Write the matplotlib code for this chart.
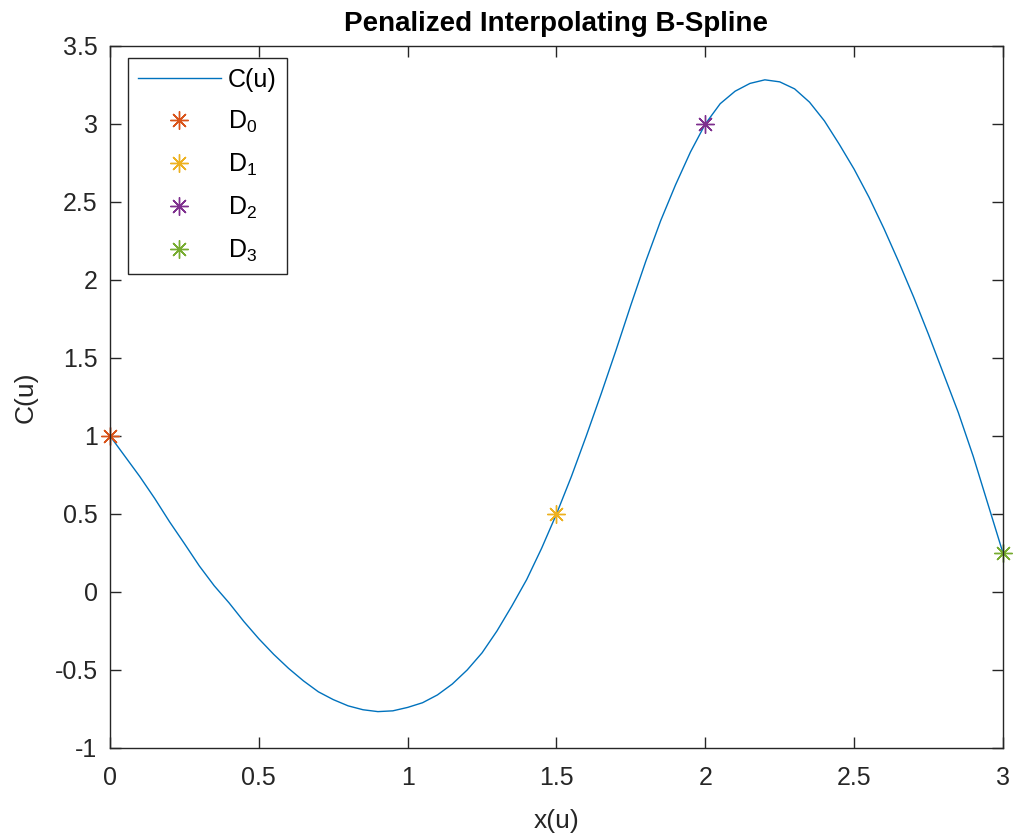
import matplotlib.pyplot as plt
import numpy as np

plt.rcParams['font.family'] = ['Liberation Sans', 'DejaVu Sans']
plt.rcParams['font.size'] = 18
plt.rcParams['mathtext.fontset'] = 'custom'
plt.rcParams['mathtext.rm'] = 'Liberation Sans'
plt.rcParams['mathtext.it'] = 'Liberation Sans'

# curve
x_u = [0.00, 0.05, 0.10, 0.15, 0.20, 0.25, 0.30, 0.35, 0.40, 0.45,
       0.50, 0.55, 0.60, 0.65, 0.70, 0.75, 0.80, 0.85, 0.90, 0.95,
       1.00, 1.05, 1.10, 1.15, 1.20, 1.25, 1.30, 1.35, 1.40, 1.45,
       1.50, 1.55, 1.60, 1.65, 1.70, 1.75, 1.80, 1.85, 1.90, 1.95,
       2.00, 2.05, 2.10, 2.15, 2.20, 2.25, 2.30, 2.35, 2.40, 2.45,
       2.50, 2.55, 2.60, 2.65, 2.70, 2.75, 2.80, 2.85, 2.90, 2.95, 3.00]
c_u = [1.00, 0.87, 0.74, 0.60, 0.45, 0.31, 0.167, 0.04, -0.07, -0.19,
       -0.30, -0.40, -0.49, -0.57, -0.64, -0.69, -0.73, -0.755, -0.767, -0.762,
       -0.74, -0.71, -0.66, -0.59, -0.50, -0.39, -0.25, -0.09, 0.08, 0.28,
       0.50, 0.74, 1.00, 1.27, 1.55, 1.84, 2.12, 2.38, 2.61, 2.82,
       3.00, 3.13, 3.21, 3.26, 3.283, 3.27, 3.225, 3.14, 3.02, 2.87,
       2.71, 2.53, 2.33, 2.115, 1.89, 1.65, 1.40, 1.15, 0.87, 0.56, 0.25]

# data points
pts_x = [0, 1.5, 2, 3]
pts_y = [1, 0.5, 3, 0.25]
pts_labels = ['D$_0$', 'D$_1$', 'D$_2$', 'D$_3$']
pts_colors = ['#D95319', '#EDB120', '#7E2F8E', '#77AC30']

fig = plt.figure(figsize=(10.13, 8.39), dpi=100)
ax = fig.add_axes([0.1086, 0.1085, 0.8815, 0.8367])

ax.plot(x_u, c_u, color='#0072BD', lw=1.0, label='C(u)')
for px, py, lab, col in zip(pts_x, pts_y, pts_labels, pts_colors):
    ax.plot(px, py, linestyle='none', marker=(8, 2, 0), markersize=13,
            markeredgewidth=1.0, color=col, label=lab, clip_on=False)

ax.set_xlim(0, 3)
ax.set_ylim(-1, 3.5)
ax.set_xticks(np.arange(0, 3.01, 0.5))
ax.set_xticklabels(['0', '0.5', '1', '1.5', '2', '2.5', '3'])
ax.set_yticks(np.arange(-1, 3.51, 0.5))
ax.set_yticklabels(['-1', '-0.5', '0', '0.5', '1', '1.5', '2', '2.5', '3', '3.5'])
ax.tick_params(direction='in', length=8, width=1, top=True, right=True,
               labelsize=18, colors='#262626')
ax.tick_params(axis='x', pad=13)
ax.tick_params(axis='y', pad=9)
for s in ax.spines.values():
    s.set_color('#262626')
    s.set_linewidth(1)

ax.set_xlabel('x(u)', fontsize=19, color='#262626', labelpad=14)
ax.set_ylabel('C(u)', fontsize=19, color='#262626', labelpad=12)
ax.set_title('Penalized Interpolating B-Spline', fontsize=20, fontweight='bold', pad=11)

leg = ax.legend(loc='upper left', bbox_to_anchor=(0.0202, 0.983), borderaxespad=0,
                fancybox=False, framealpha=1, edgecolor='#262626',
                handlelength=3.3, handletextpad=0.3, fontsize=18,
                borderpad=0.4, labelspacing=0.67)
leg.get_frame().set_linewidth(1)

fig.savefig('out.png', dpi=100)
